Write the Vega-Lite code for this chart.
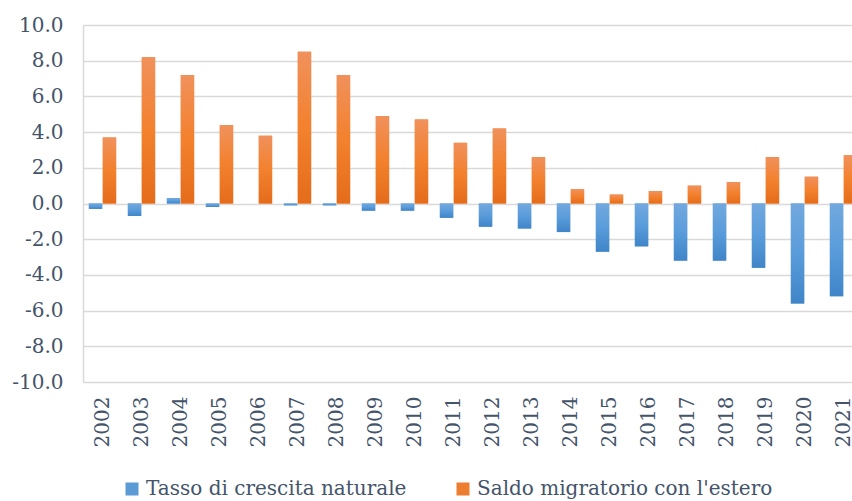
{
  "$schema": "https://vega.github.io/schema/vega-lite/v6.json",
  "width": 780,
  "height": 357,
  "autosize": {"type": "none"},
  "padding": {"left": 83, "top": 25, "right": 0, "bottom": 119},
  "background": "white",
  "config": {
    "font": "DejaVu Serif",
    "axis": {"labelFont": "DejaVu Serif"},
    "legend": {"labelFont": "DejaVu Serif"},
    "view": {"stroke": null}
  },
  "data": {
    "values": [
      {"anno": "2002", "serie": "Tasso di crescita naturale", "valore": -0.3},
      {"anno": "2003", "serie": "Tasso di crescita naturale", "valore": -0.7},
      {"anno": "2004", "serie": "Tasso di crescita naturale", "valore": 0.3},
      {"anno": "2005", "serie": "Tasso di crescita naturale", "valore": -0.2},
      {"anno": "2006", "serie": "Tasso di crescita naturale", "valore": 0.0},
      {"anno": "2007", "serie": "Tasso di crescita naturale", "valore": -0.1},
      {"anno": "2008", "serie": "Tasso di crescita naturale", "valore": -0.1},
      {"anno": "2009", "serie": "Tasso di crescita naturale", "valore": -0.4},
      {"anno": "2010", "serie": "Tasso di crescita naturale", "valore": -0.4},
      {"anno": "2011", "serie": "Tasso di crescita naturale", "valore": -0.8},
      {"anno": "2012", "serie": "Tasso di crescita naturale", "valore": -1.3},
      {"anno": "2013", "serie": "Tasso di crescita naturale", "valore": -1.4},
      {"anno": "2014", "serie": "Tasso di crescita naturale", "valore": -1.6},
      {"anno": "2015", "serie": "Tasso di crescita naturale", "valore": -2.7},
      {"anno": "2016", "serie": "Tasso di crescita naturale", "valore": -2.4},
      {"anno": "2017", "serie": "Tasso di crescita naturale", "valore": -3.2},
      {"anno": "2018", "serie": "Tasso di crescita naturale", "valore": -3.2},
      {"anno": "2019", "serie": "Tasso di crescita naturale", "valore": -3.6},
      {"anno": "2020", "serie": "Tasso di crescita naturale", "valore": -5.6},
      {"anno": "2021", "serie": "Tasso di crescita naturale", "valore": -5.2},
      {"anno": "2002", "serie": "Saldo migratorio con l'estero", "valore": 3.7},
      {"anno": "2003", "serie": "Saldo migratorio con l'estero", "valore": 8.2},
      {"anno": "2004", "serie": "Saldo migratorio con l'estero", "valore": 7.2},
      {"anno": "2005", "serie": "Saldo migratorio con l'estero", "valore": 4.4},
      {"anno": "2006", "serie": "Saldo migratorio con l'estero", "valore": 3.8},
      {"anno": "2007", "serie": "Saldo migratorio con l'estero", "valore": 8.5},
      {"anno": "2008", "serie": "Saldo migratorio con l'estero", "valore": 7.2},
      {"anno": "2009", "serie": "Saldo migratorio con l'estero", "valore": 4.9},
      {"anno": "2010", "serie": "Saldo migratorio con l'estero", "valore": 4.7},
      {"anno": "2011", "serie": "Saldo migratorio con l'estero", "valore": 3.4},
      {"anno": "2012", "serie": "Saldo migratorio con l'estero", "valore": 4.2},
      {"anno": "2013", "serie": "Saldo migratorio con l'estero", "valore": 2.6},
      {"anno": "2014", "serie": "Saldo migratorio con l'estero", "valore": 0.8},
      {"anno": "2015", "serie": "Saldo migratorio con l'estero", "valore": 0.5},
      {"anno": "2016", "serie": "Saldo migratorio con l'estero", "valore": 0.7},
      {"anno": "2017", "serie": "Saldo migratorio con l'estero", "valore": 1.0},
      {"anno": "2018", "serie": "Saldo migratorio con l'estero", "valore": 1.2},
      {"anno": "2019", "serie": "Saldo migratorio con l'estero", "valore": 2.6},
      {"anno": "2020", "serie": "Saldo migratorio con l'estero", "valore": 1.5},
      {"anno": "2021", "serie": "Saldo migratorio con l'estero", "valore": 2.7}
    ]
  },
  "encoding": {
    "x": {
      "field": "anno",
      "type": "nominal",
      "scale": {"paddingInner": 0.3, "paddingOuter": 0.15},
      "axis": {
        "title": null,
        "orient": "bottom",
        "labelAngle": -90,
        "labelFont": "DejaVu Serif",
        "labelFontSize": 20,
        "labelColor": "#44546A",
        "labelPadding": 14,
        "domain": false,
        "ticks": false,
        "grid": false
      }
    },
    "xOffset": {
      "field": "serie",
      "type": "nominal",
      "sort": ["Tasso di crescita naturale", "Saldo migratorio con l'estero"],
      "scale": {"paddingInner": 0.04}
    },
    "y": {
      "field": "valore",
      "type": "quantitative",
      "scale": {"domain": [-10, 10], "nice": false, "zero": false},
      "axis": {
        "title": null,
        "values": [-10, -8, -6, -4, -2, 0, 2, 4, 6, 8, 10],
        "labelExpr": "replace(format(datum.value, '.1f'), '\u2212', '-')",
        "labelFont": "DejaVu Serif",
        "labelFontSize": 20,
        "labelColor": "#44546A",
        "labelPadding": 20,
        "ticks": false,
        "domain": true,
        "domainColor": "#d9d9d9",
        "domainWidth": 1.5,
        "grid": true,
        "gridColor": "#d9d9d9",
        "gridWidth": 1.5
      }
    }
  },
  "layer": [
    {
      "mark": {"type": "bar"},
      "encoding": {
        "color": {
          "field": "serie",
          "type": "nominal",
          "scale": {
            "domain": ["Tasso di crescita naturale", "Saldo migratorio con l'estero"],
            "range": ["#5B9BD5", "#ED7D31"]
          },
          "legend": {
            "title": null,
            "orient": "none",
            "legendX": 39,
            "legendY": 454,
            "direction": "horizontal",
            "symbolType": "square",
            "symbolSize": 169,
            "symbolStrokeWidth": 0,
            "labelFont": "DejaVu Serif",
            "labelFontSize": 20,
            "labelColor": "#44546A",
            "labelLimit": 500,
            "labelOffset": 4,
            "columnPadding": 46
          }
        }
      }
    },
    {
      "transform": [{"filter": "datum.serie === 'Tasso di crescita naturale'"}],
      "mark": {
        "type": "bar",
        "color": {"gradient": "linear", "x1": 0, "y1": 0, "x2": 0, "y2": 1,
          "stops": [{"offset": 0, "color": "#72A8DE"}, {"offset": 0.5, "color": "#5A9CDB"}, {"offset": 1, "color": "#3F85C8"}]}
      }
    },
    {
      "transform": [{"filter": "datum.serie !== 'Tasso di crescita naturale'"}],
      "mark": {
        "type": "bar",
        "color": {"gradient": "linear", "x1": 0, "y1": 0, "x2": 0, "y2": 1,
          "stops": [{"offset": 0, "color": "#F0915C"}, {"offset": 0.5, "color": "#F3812E"}, {"offset": 1, "color": "#E46C1A"}]}
      }
    },
    {
      "data": {"values": [{}]},
      "mark": {"type": "rule", "color": "#d9dde3", "strokeWidth": 2},
      "encoding": {"x": null, "xOffset": null, "y": {"datum": 0}}
    }
  ]
}
